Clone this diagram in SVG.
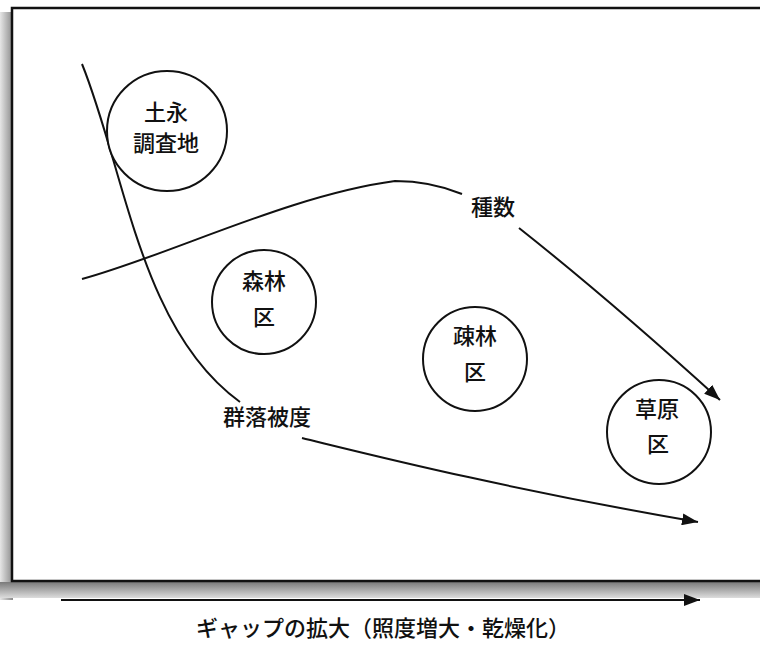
<svg xmlns="http://www.w3.org/2000/svg" width="760" height="649" viewBox="0 0 760 649">
<defs>
<linearGradient id="shL" x1="0" y1="0" x2="1" y2="0">
<stop offset="0" stop-color="#e6e6e6"/>
<stop offset="1" stop-color="#8a8a8a"/>
</linearGradient>
<linearGradient id="shB" x1="0" y1="0" x2="0" y2="1">
<stop offset="0" stop-color="#7a7a7a"/>
<stop offset="1" stop-color="#dddddd"/>
</linearGradient>
<marker id="ah" markerUnits="userSpaceOnUse" markerWidth="18" markerHeight="12" refX="16" refY="6" orient="auto">
<path d="M0,0 L16,6 L0,12 Z" fill="#111"/>
</marker>
<style>
.ln{fill:none;stroke:#111;stroke-width:2}
.nd{fill:#fff;stroke:#111;stroke-width:2}
.tx{font-family:"Noto Sans CJK JP","Noto Sans CJK SC",sans-serif;font-size:22px;font-weight:500;fill:#111;text-anchor:middle}
</style>
</defs>
<rect width="760" height="649" fill="#fff"/>
<g id="frame">
<rect x="0" y="12" width="13" height="588" fill="url(#shL)"/>
<rect x="0" y="582" width="760" height="16" fill="url(#shB)"/>
<rect x="12" y="8" width="760" height="573" fill="#fff" stroke="#111" stroke-width="2.5"/>
</g>
<g id="connectors">
<path class="ln" d="M82,64 C125,170 140,330 240,402"/>
<path class="ln" d="M302,438 C360,452 500,488 698,522" marker-end="url(#ah)"/>
<path class="ln" d="M82,279 C170,255 290,195 395,181 C425,181 445,187 462,194"/>
<path class="ln" d="M519,228 Q610,300 720,400" marker-end="url(#ah)"/>
<path class="ln" d="M61,600 L700,600" marker-end="url(#ah)"/>
</g>
<g id="node-tsuchinaga">
<circle class="nd" cx="167" cy="131" r="60"/>
<text class="tx" x="166" y="120">土永</text>
<text class="tx" x="166" y="151">調査地</text>
</g>
<g id="node-shinrin">
<circle class="nd" cx="264" cy="302" r="52"/>
<text class="tx" x="264" y="289">森林</text>
<text class="tx" x="264" y="325">区</text>
</g>
<g id="node-sorin">
<circle class="nd" cx="475" cy="359" r="52"/>
<text class="tx" x="475" y="344">疎林</text>
<text class="tx" x="475" y="380">区</text>
</g>
<g id="node-sogen">
<circle class="nd" cx="659" cy="432" r="52"/>
<text class="tx" x="657" y="417">草原</text>
<text class="tx" x="658" y="452">区</text>
</g>
<g id="labels">
<text class="tx" x="493" y="215">種数</text>
<text class="tx" x="267" y="425">群落被度</text>
<text class="tx" x="383" y="636">ギャップの拡大（照度増大・乾燥化）</text>
</g>
</svg>
